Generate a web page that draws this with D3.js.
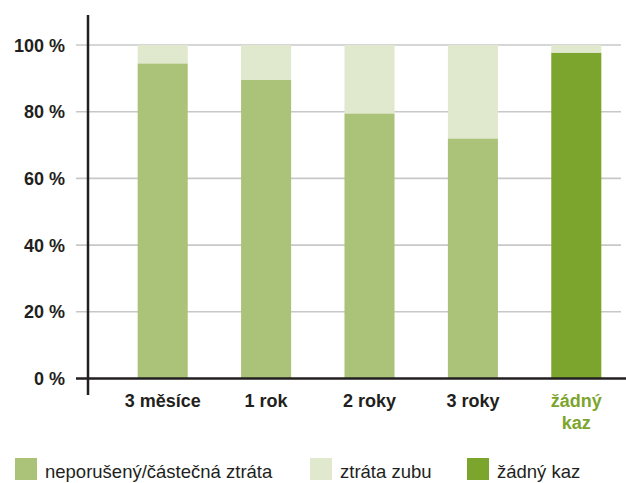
<!DOCTYPE html>
<html>
<head>
<meta charset="utf-8">
<script src="https://cdn.jsdelivr.net/npm/d3@7"></script>
<style>
  body { margin: 0; background: #fff; }
  svg { font-family: "Liberation Sans", Arial, sans-serif; }
</style>
</head>
<body>
<svg id="chart" width="626" height="483"></svg>
<script>
// data (percent)
const categories = ["3 měsíce", "1 rok", "2 roky", "3 roky", "žádný kaz"];
const intact = [94.5, 89.5, 79.5, 72, 0];      // neporušený/částečná ztráta
const toothLoss = [5.5, 10.5, 20.5, 28, 2.3];   // ztráta zubu
const noCaries = [0, 0, 0, 0, 97.7];            // žádný kaz
const yTicks = [0, 20, 40, 60, 80, 100];

const seriesKeys = ["intact", "noCaries", "toothLoss"];
const colors = { intact: "#aac378", toothLoss: "#e0e8cd", noCaries: "#7ca52d" };
const legendItems = [
  { key: "intact", label: "neporušený/částečná ztráta", x: 15 },
  { key: "toothLoss", label: "ztráta zubu", x: 310 },
  { key: "noCaries", label: "žádný kaz", x: 467 }
];

const rows = categories.map((c, i) => ({
  cat: c, intact: intact[i], toothLoss: toothLoss[i], noCaries: noCaries[i]
}));

const svg = d3.select("#chart");
const textColor = "#231f20";

const x = d3.scaleBand().domain(categories).range([111, 628])
  .paddingInner(0.516).paddingOuter(0.258);
const y = d3.scaleLinear().domain([0, 100]).range([378.5, 45]);

// gridlines
svg.append("g").selectAll("line")
  .data(yTicks.filter(t => t > 0))
  .join("line")
  .attr("x1", 76).attr("x2", 621)
  .attr("y1", d => y(d)).attr("y2", d => y(d))
  .attr("stroke", "#c8c8c8").attr("stroke-width", 1.6);

// stacked bars
const stack = d3.stack().keys(seriesKeys)(rows);
svg.append("g").selectAll("g")
  .data(stack)
  .join("g")
  .attr("fill", d => colors[d.key])
  .selectAll("rect")
  .data(d => d)
  .join("rect")
  .attr("x", d => x(d.data.cat))
  .attr("width", x.bandwidth())
  .attr("y", d => y(d[1]))
  .attr("height", d => y(d[0]) - y(d[1]));

// y tick labels
svg.append("g").selectAll("text")
  .data(yTicks)
  .join("text")
  .attr("x", 65).attr("y", d => y(d) + 6.5)
  .attr("text-anchor", "end")
  .attr("font-size", 18).attr("font-weight", "bold")
  .attr("fill", textColor)
  .text(d => d + " %");

// axes lines
svg.append("line")
  .attr("x1", 88).attr("x2", 88).attr("y1", 15).attr("y2", 395)
  .attr("stroke", textColor).attr("stroke-width", 2.5);
svg.append("line")
  .attr("x1", 76).attr("x2", 626).attr("y1", y(0)).attr("y2", y(0))
  .attr("stroke", textColor).attr("stroke-width", 2.5);

// x labels
const lines = d => d === "žádný kaz" ? ["žádný", "kaz"] : [d];
const xl = svg.append("g").selectAll("text")
  .data(categories)
  .join("text")
  .attr("x", d => x(d) + x.bandwidth() / 2)
  .attr("y", 407)
  .attr("text-anchor", "middle")
  .attr("font-size", 18).attr("font-weight", "bold")
  .attr("fill", d => d === "žádný kaz" ? colors.noCaries : textColor);
xl.selectAll("tspan")
  .data(d => lines(d).map(l => ({ l, d })))
  .join("tspan")
  .attr("x", o => x(o.d) + x.bandwidth() / 2)
  .attr("dy", (o, i) => i ? 22 : 0)
  .text(o => o.l);

// legend
const lg = svg.append("g").selectAll("g")
  .data(legendItems)
  .join("g")
  .attr("transform", d => `translate(${d.x},458)`);
lg.append("rect").attr("width", 22).attr("height", 22)
  .attr("fill", d => colors[d.key]);
lg.append("text").attr("x", 30).attr("y", 20)
  .attr("font-size", 18.5).attr("fill", textColor)
  .text(d => d.label);
</script>
</body>
</html>
